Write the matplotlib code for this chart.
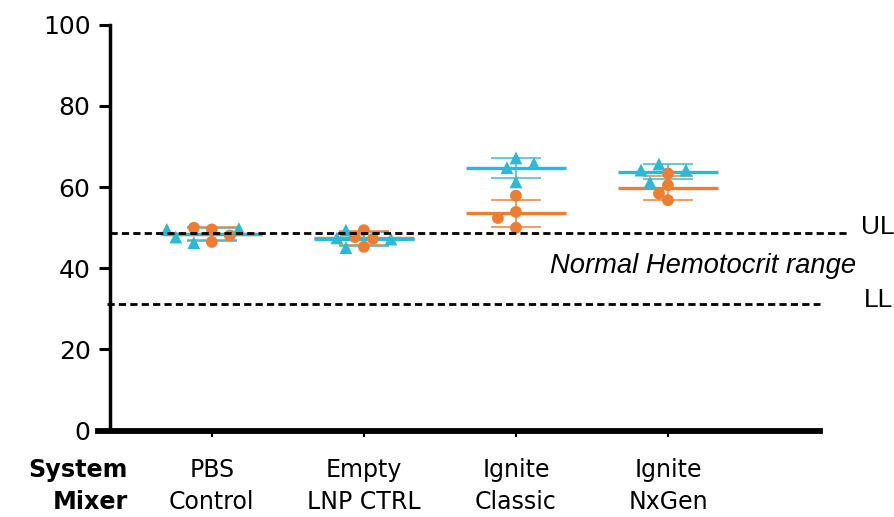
import matplotlib
matplotlib.use("Agg")
import matplotlib.pyplot as plt
import matplotlib.transforms as mtransforms
import numpy as np

# ── data ──
categories = [("PBS", "Control"), ("Empty", "LNP CTRL"),
              ("Ignite", "Classic"), ("Ignite", "NxGen")]
row_labels = ["System", "Mixer"]

orange_vals = [
    [49.6, 50.0, 46.5, 48.1],
    [49.4, 47.7, 47.3, 45.3],
    [57.9, 53.9, 52.4, 50.0],
    [63.4, 60.5, 58.4, 56.8],
]
cyan_vals = [
    [46.3, 47.7, 49.8, 49.6],
    [47.5, 47.2, 45.1, 49.4],
    [67.2, 64.8, 65.8, 61.3],
    [65.7, 64.2, 64.2, 61.2],
]

upper_limit = 48.8
lower_limit = 31.3
range_label = "Normal Hemotocrit range"

ORANGE = "#ED7D31"
CYAN = "#2BBAD6"

fig = plt.figure(figsize=(8.95, 5.17), dpi=100)
ax = fig.add_axes([0.1229, 0.167, 0.7933, 0.785])
ax.set_xlim(0.33, 5.0)
ax.set_ylim(0, 100)

xpos = np.arange(1, len(categories) + 1)


def swarm(x0, values, step_px=9.0, diam_px=11.0):
    """Simple beeswarm: spread overlapping points sideways in pixel space."""
    to_px = ax.transData
    placed = []
    out = []
    slots = [0]
    for k in range(1, 8):
        slots += [-k, k]
    for v in values:
        base = to_px.transform((x0, v))
        for s in slots:
            px = (base[0] + s * step_px, base[1])
            if all(np.hypot(px[0] - q[0], px[1] - q[1]) >= diam_px for q in placed):
                break
        placed.append(px)
        out.append(to_px.inverted().transform(px)[0])
    return out


for i, x0 in enumerate(xpos):
    allv = orange_vals[i] + cyan_vals[i]
    xs = swarm(x0, allv)
    xo, xc = xs[:4], xs[4:]
    for vals, xx, color, marker in ((orange_vals[i], xo, ORANGE, "o"),
                                    (cyan_vals[i], xc, CYAN, "^")):
        m = np.mean(vals)
        sd = np.std(vals, ddof=1)
        ax.hlines(m, x0 - 0.33, x0 + 0.33, color=color, lw=2.4, zorder=3)
        ax.hlines([m - sd, m + sd], x0 - 0.165, x0 + 0.165, color=color,
                  lw=1.4, alpha=0.75, zorder=3)
        ax.vlines(x0, m - sd, m + sd, color=color, lw=1.4, alpha=0.75, zorder=3)
        ax.scatter(xx, vals, s=72 if marker == "o" else 85, marker=marker,
                   color=color, edgecolors="none", zorder=4, clip_on=False)

# normal range lines
ax.plot([0.33, 5.2], [upper_limit, upper_limit], color="black", lw=2.0,
        ls=(0, (2.6, 1.5)), zorder=5, clip_on=False)
ax.plot([0.31, 5.0], [lower_limit, lower_limit], color="black", lw=2.0,
        ls=(0, (2.6, 1.5)), zorder=5, clip_on=False)
ax.text(5.27, upper_limit + 1.5, "UL", fontsize=19, family="Liberation Sans",
        va="center", ha="left", clip_on=False)
ax.text(5.29, lower_limit + 0.8, "LL", fontsize=19, family="Liberation Sans",
        va="center", ha="left", clip_on=False)
ax.text(5.24, 40.5, range_label, fontsize=19.7, family="Liberation Sans",
        style="italic", va="center", ha="right", clip_on=False)

# axes styling
for side in ("top", "right"):
    ax.spines[side].set_visible(False)
ax.spines["left"].set_linewidth(2.5)
ax.spines["bottom"].set_linewidth(4.2)
ax.spines["bottom"].set_bounds(0.25, 5.0)

ax.set_yticks([0, 20, 40, 60, 80, 100])
ax.tick_params(axis="y", length=8, width=2.2, labelsize=18, pad=6)
ax.set_xticks(xpos)
ax.set_xticklabels([])
ax.tick_params(axis="x", length=4, width=1.5)

blend = mtransforms.blended_transform_factory(ax.transData, ax.transAxes)
y_rows = [-0.0969, -0.176]
for x0, (top, bottom) in zip(xpos, categories):
    ax.text(x0, y_rows[0], top, transform=blend, fontsize=17,
            ha="center", va="center")
    ax.text(x0, y_rows[1], bottom, transform=blend, fontsize=17,
            ha="center", va="center")

for y, lab in zip(y_rows, row_labels):
    ax.text(0.0254, y, lab, transform=ax.transAxes, fontsize=17.2,
            fontweight="bold", ha="right", va="center")

fig.savefig("out.png", dpi=100)
